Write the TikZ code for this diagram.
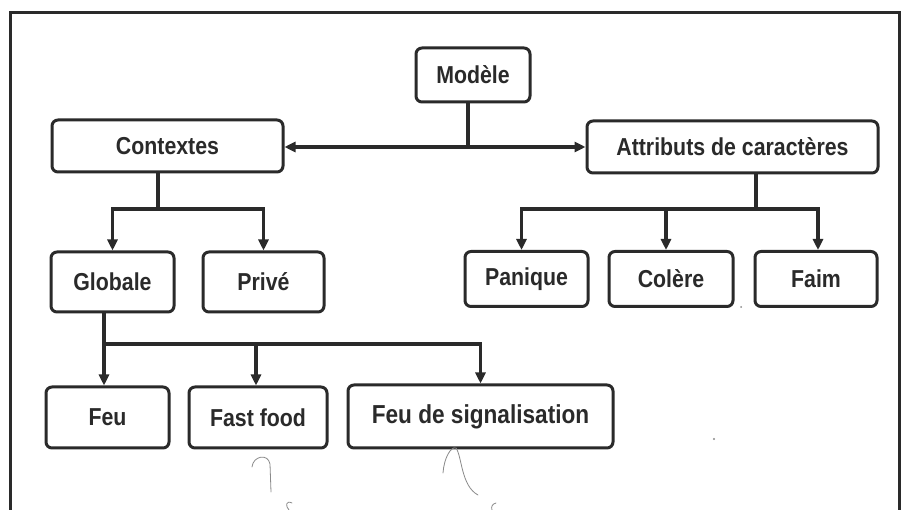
\documentclass[tikz,border=0pt]{standalone}
\usepackage{fontspec}
\newfontfamily\boxfont[FakeStretch=0.87]{Liberation Sans}
\usetikzlibrary{arrows.meta}
\definecolor{ink}{HTML}{2A2A2A}
\definecolor{pencil}{HTML}{8A8A8A}
\tikzset{
  box/.style={draw=ink, line width=3pt, rounded corners=6pt, fill=white, text=ink,
    font=\boxfont\bfseries\fontsize{24.5}{29}\selectfont, inner sep=0pt},
  conn/.style={draw=ink, line width=3.5pt},
  arr/.style={conn, -{Triangle[length=11pt,width=10pt]}},
  darr/.style={conn, {Triangle[length=11pt,width=10pt]}-{Triangle[length=11pt,width=10pt]}},
  scribble/.style={draw=pencil, line width=0.8pt, line cap=round}
}
\begin{document}
\begin{tikzpicture}[x=1pt,y=-1pt]
\useasboundingbox (0,0) rectangle (903,510);
\fill[white] (0,0) rectangle (903,510);
% outer frame
\draw[ink, line width=3pt] (10,510) -- (10,13) -- (899,13) -- (899,510);

% nodes
\node[box, minimum width=114pt, minimum height=54pt] (mod) at (473,75) {Modèle};
\node[box, minimum width=231pt, minimum height=52pt] (ctx) at (167.5,146) {Contextes};
\node[box, minimum width=291pt, minimum height=52pt] (att) at (732.5,147) {Attributs de caractères};
\node[box, minimum width=123pt, minimum height=60pt] (glob) at (112.5,282) {Globale};
\node[box, minimum width=121pt, minimum height=60pt] (priv) at (263.5,282) {Privé};
\node[box, minimum width=123pt, minimum height=55pt] (pan) at (526.5,279) {Panique};
\node[box, minimum width=124pt, minimum height=55pt] (col) at (671,279) {Colère};
\node[box, minimum width=122pt, minimum height=55pt] (faim) at (816,279) {Faim};
\node[box, minimum width=123pt, minimum height=61pt] (feu) at (107.5,417.5) {Feu};
\node[box, minimum width=138pt, minimum height=61pt] (fast) at (258,417.5) {Fast food};
\node[box, minimum width=265pt, minimum height=63pt, font=\boxfont\bfseries\fontsize{26}{30}\selectfont] (sig) at (480.5,416.5) {Feu de signalisation};

% junction coordinates
\coordinate (jm) at (468,147);
\coordinate (j1) at (158,209);
\coordinate (j2) at (756,209);
\coordinate (j3) at (104,344);

% Modèle -> Contextes / Attributs
\draw[darr] (ctx.east |- jm) -- (att.west |- jm);
\draw[conn] ([xshift=-5pt]mod.south) -- (jm);

% Contextes -> Globale, Privé
\draw[conn] (ctx.south -| j1) -- (j1);
\draw[arr] (j1) -| (glob.north);
\draw[arr] (j1) -| (priv.north);

% Attributs -> Panique, Colère, Faim
\draw[conn] (att.south -| j2) -- (j2);
\draw[arr] (j2) -| ([xshift=-5pt]pan.north);
\draw[arr] ([xshift=-5pt]col.north |- j2) -- ([xshift=-5pt]col.north);
\draw[arr] (j2) -| ([xshift=2pt]faim.north);

% Globale -> Feu, Fast food, Feu de signalisation
\draw[conn] (glob.south -| j3) -- (j3);
\draw[arr] (j3) -- (j3 |- feu.north);
\draw[arr] ([xshift=-2pt]fast.north |- j3) -- ([xshift=-2pt]fast.north);
\draw[arr] (j3) -| (sig.north);

% pencil marks
\draw[scribble] (252,467) .. controls (253,456) and (268,453) .. (270,464) -- (271,492);
\draw[scribble] (292,503) .. controls (286,500) and (285,506) .. (289,510);
\draw[scribble] (443,473) .. controls (444,458) and (451,446) .. (456,448) .. controls (462,456) and (461,486) .. (478,495);
\draw[scribble] (496,503) .. controls (492,504) and (491,507) .. (492,510);
\fill[pencil] (714,439) circle (1.2pt);
\fill[pencil] (741,307) circle (1pt);
\end{tikzpicture}
\end{document}
